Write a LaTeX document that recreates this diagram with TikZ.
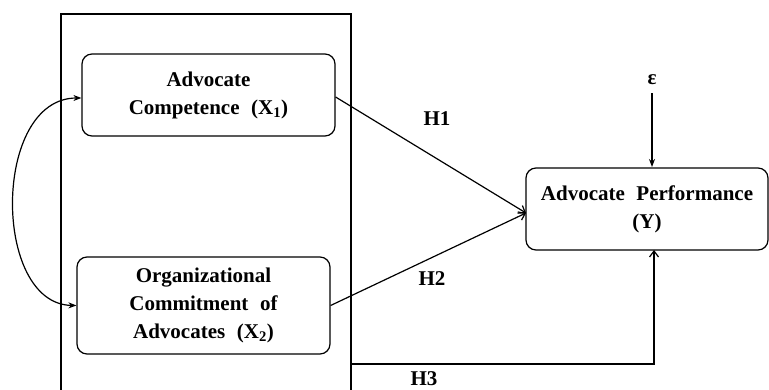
\documentclass[tikz,border=0pt]{standalone}
\usepackage{fontspec}
\setmainfont{Liberation Serif}
\usetikzlibrary{arrows.meta}
\begin{document}
\begin{tikzpicture}[x=1pt,y=-1pt,
  every node/.style={font=\fontsize{21}{28}\selectfont\bfseries},
  varbox/.style={draw,line width=1.2pt,rounded corners=10pt,align=center,inner sep=0pt,
    execute at begin node={\spaceskip=0.55em\relax}},
  conn/.style={line width=1.2pt},
  filledtip/.style={-{Stealth[length=8pt,width=6pt]}},
  barbtip/.style={-{Straight Barb[length=6pt,width=9pt]}},
  lbl/.style={inner sep=0pt}]
\useasboundingbox (0,0) rectangle (769,390);
% outer frame
\draw[conn] (61,395) -- (61,14) -- (351,14) -- (351,395);
% boxes
\node[varbox,minimum width=253pt,minimum height=82pt] (x1) at (208.5,95) {Advocate\\Competence (X\textsubscript{1})};
\node[varbox,minimum width=253pt,minimum height=97pt] (x2) at (203.5,305.5) {Organizational\\Commitment of\\Advocates (X\textsubscript{2})};
\node[varbox,minimum width=242pt,minimum height=82pt] (y) at (647,209) {Advocate Performance\\(Y)};
\node[lbl] (eps) at (652,80) {ε};
% connectors
\coordinate (m) at (526,213);
\coordinate (h3s) at (351,364);
\draw[conn,barbtip] (x1.east) ++(0,2) -- (m);
\draw[conn,barbtip] (x2.east) -- (m);
\draw[conn,barbtip] (h3s) -- (h3s -| 654,0) -- (654,250);
\draw[conn,filledtip] (eps.south) ++(0,8) -- (652,167);
\draw[conn,{Stealth[length=8pt,width=6pt]}-{Stealth[length=8pt,width=6pt]}] (x1.west) ++(0,3) .. controls (-8,98) and (-8,304) .. (x2.west);
% labels
\node[lbl] (h1) at (437,119) {H1};
\node[lbl] (h2) at (432,279) {H2};
\node[lbl] (h3) at (424,379) {H3};
\end{tikzpicture}
\end{document}
